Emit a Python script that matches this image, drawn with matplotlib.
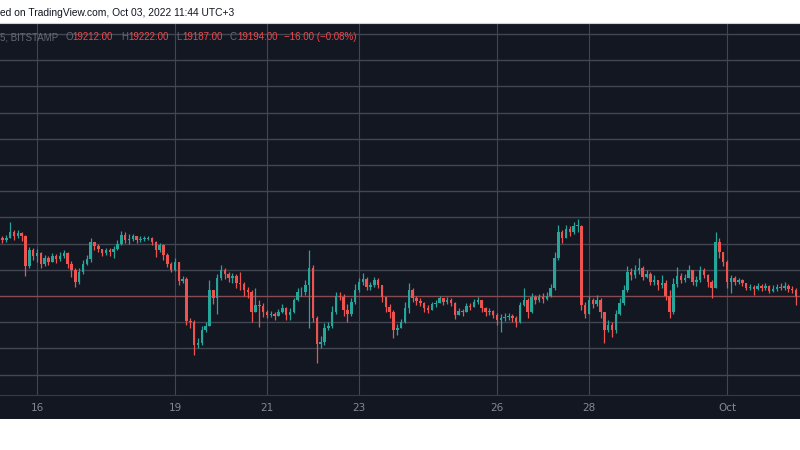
import matplotlib
matplotlib.use("Agg")
import matplotlib.pyplot as plt
import matplotlib.dates as mdates
import numpy as np
import pandas as pd

# BTCUSD (Bitstamp), 2h candles Sep 15 -> Oct 2 2022
first_open = 20085
closes = [
    20055, 20085, 20175, 20115, 20160, 20115, 19660, 19900, 19810, 19855,
    19690, 19780, 19720, 19810, 19765, 19810, 19855, 19690, 19595, 19415,
    19565, 19690, 19765, 20025, 19965, 19920, 19855, 19900, 19870, 19920,
    19995, 20130, 20055, 20070, 20115, 20055, 20070, 20070, 20085, 20025,
    19900, 19980, 19825, 19690, 19595, 19720, 19430, 19460, 18820, 18805,
    18450, 18480, 18680, 18740, 19290, 19170, 19475, 19595, 19535, 19475,
    19505, 19400, 19385, 19290, 19260, 18955, 19065, 19045, 18955, 18910,
    18925, 18895, 18955, 19015, 18910, 18955, 19140, 19260, 19260, 19370,
    19630, 18865, 18465, 18500, 18710, 18740, 18955, 19200, 19185, 18985,
    18925, 19110, 19290, 19415, 19460, 19335, 19370, 19445, 19370, 19185,
    19030, 18955, 18680, 18710, 18805, 19015, 19290, 19170, 19125, 19095,
    19015, 18985, 19080, 19095, 19170, 19110, 19140, 19095, 18910, 18970,
    18955, 19045, 19030, 19110, 19140, 19015, 18955, 18970, 18910, 18835,
    18865, 18880, 18895, 18865, 18805, 19065, 19140, 18955, 19185, 19140,
    19185, 19155, 19200, 19320, 19780, 20175, 20085, 20225, 20175, 20270,
    20270, 19065, 18925, 19140, 19080, 19140, 18955, 18680, 18755, 18680,
    18925, 19095, 19290, 19565, 19520, 19595, 19630, 19490, 19535, 19415,
    19445, 19370, 19400, 19200, 18955, 19385, 19505, 19445, 19475, 19595,
    19415, 19445, 19595, 19520, 19415, 19320, 20025, 19870, 19720, 19415,
    19475, 19415, 19445, 19400, 19320, 19335, 19305, 19355, 19320, 19355,
    19275, 19305, 19335, 19320, 19355, 19305, 19290, 19194,
]
highs = [
    20115, 20130, 20330, 20210, 20210, 20175, 20130, 19950, 19935, 19920,
    19870, 19825, 19810, 19855, 19840, 19870, 19900, 19870, 19735, 19630,
    19630, 19750, 19825, 20085, 20025, 19995, 19920, 19935, 19935, 19965,
    20055, 20195, 20175, 20145, 20145, 20115, 20115, 20115, 20115, 20100,
    20040, 20010, 19995, 19855, 19720, 19780, 19720, 19505, 19490, 18865,
    18835, 18560, 18740, 18805, 19445, 19290, 19535, 19675, 19630, 19565,
    19550, 19535, 19565, 19415, 19335, 19290, 19320, 19140, 19095, 18985,
    18970, 18955, 19000, 19080, 19030, 19015, 19170, 19320, 19335, 19445,
    19900, 19675, 18895, 18590, 18790, 18805, 19045, 19260, 19260, 19230,
    19080, 19170, 19385, 19475, 19550, 19490, 19415, 19490, 19475, 19370,
    19185, 19080, 18985, 18770, 18850, 19110, 19400, 19320, 19200, 19170,
    19110, 19065, 19110, 19140, 19200, 19170, 19185, 19170, 19110, 19015,
    19000, 19095, 19095, 19155, 19185, 19140, 19030, 19015, 18985, 18940,
    18925, 18940, 18940, 18925, 18895, 19110, 19320, 19170, 19245, 19215,
    19230, 19245, 19260, 19385, 19870, 20285, 20210, 20285, 20270, 20330,
    20375, 20285, 19110, 19200, 19170, 19215, 19170, 18955, 18835, 18805,
    18985, 19170, 19370, 19660, 19630, 19675, 19780, 19660, 19595, 19565,
    19520, 19445, 19520, 19445, 19290, 19475, 19645, 19550, 19535, 19675,
    19595, 19505, 19660, 19630, 19535, 19445, 20175, 20085, 19870, 19750,
    19520, 19505, 19475, 19460, 19400, 19385, 19370, 19400, 19385, 19400,
    19370, 19370, 19385, 19400, 19415, 19385, 19355, 19320,
]
lows = [
    20010, 20025, 20085, 20055, 20085, 20040, 19505, 19630, 19750, 19720,
    19630, 19660, 19675, 19720, 19705, 19735, 19780, 19630, 19490, 19335,
    19385, 19535, 19675, 19720, 19900, 19870, 19810, 19825, 19810, 19780,
    19900, 19980, 20010, 19995, 20040, 20010, 20025, 20040, 20055, 19980,
    19795, 19870, 19750, 19645, 19565, 19580, 19370, 19400, 18755, 18710,
    18300, 18405, 18450, 18650, 18740, 19080, 18925, 19445, 19460, 19415,
    19400, 19320, 19290, 19200, 19170, 18805, 18970, 18725, 18880, 18865,
    18880, 18835, 18895, 18940, 18835, 18835, 18940, 19125, 19200, 19215,
    18710, 18805, 18175, 18405, 18450, 18680, 18710, 18925, 19140, 18895,
    18805, 18895, 19080, 19260, 19370, 19290, 19290, 19335, 19320, 19110,
    18955, 18865, 18560, 18605, 18710, 18790, 18940, 19110, 19065, 19045,
    18955, 18940, 19015, 19030, 19095, 19065, 19080, 19045, 18850, 18910,
    18895, 18955, 18985, 19045, 19080, 18955, 18895, 18910, 18865, 18755,
    18650, 18820, 18835, 18805, 18725, 18790, 19045, 18865, 18940, 19080,
    19110, 19095, 19140, 19185, 19290, 19750, 20010, 20085, 20115, 20145,
    20175, 18985, 18865, 18955, 19015, 19045, 18865, 18480, 18650, 18575,
    18635, 18910, 19065, 19260, 19445, 19475, 19535, 19445, 19475, 19370,
    19370, 19290, 19320, 19140, 18865, 18925, 19335, 19400, 19415, 19475,
    19370, 19355, 19415, 19475, 19335, 19170, 19370, 19780, 19660, 19320,
    19245, 19370, 19385, 19355, 19290, 19290, 19215, 19290, 19275, 19290,
    19245, 19260, 19275, 19290, 19290, 19260, 19245, 19065,
]

tick_dates = ["2022-09-16", "2022-09-19", "2022-09-21", "2022-09-23",
              "2022-09-26", "2022-09-28", "2022-10-01"]
tick_labels = ["16", "19", "21", "23", "26", "28", "Oct"]
grid_prices = list(range(18000, 23201, 400))

header = "ed on TradingView.com, Oct 03, 2022 11:44 UTC+3"
legend_parts = [
    ("5, BITSTAMP", 0, "gray"), ("O", 65, "gray"), ("19212.00", 72, "red"),
    ("H", 121, "gray"), ("19222.00", 128, "red"), ("L", 176, "gray"),
    ("19187.00", 182, "red"), ("C", 230, "gray"), ("19194.00", 237, "red"),
    ("\u221216.00 (\u22120.08%)", 284, "red"),
]

BG = "#131722"
UP = "#26a69a"
DOWN = "#ef5350"
GRID = "#424652"

times = pd.date_range("2022-09-15 06:00", periods=len(closes), freq="2h")
x = mdates.date2num(times)
c = np.array(closes, dtype=float)
o = np.array([first_open] + closes[:-1], dtype=float)
hi = np.maximum(np.array(highs, dtype=float), np.maximum(o, c))
lo = np.minimum(np.array(lows, dtype=float), np.minimum(o, c))
colors = np.where(c >= o, UP, DOWN)

fig = plt.figure(figsize=(8, 4.5), dpi=100, facecolor="white")
ax = fig.add_axes([0, 55 / 450, 1, 372 / 450])
ax.set_facecolor(BG)
ax.set_zorder(2)
# dark strip holding the time axis labels (behind the axes)
strip = fig.add_axes([0, 31 / 450, 1, 24 / 450])
strip.set_facecolor(BG)
strip.set_zorder(1)
strip.set_xticks([])
strip.set_yticks([])
for s in strip.spines.values():
    s.set_visible(False)

for p in grid_prices:
    ax.axhline(p, color=GRID, lw=1.0, zorder=0)
tick_x = mdates.date2num(pd.to_datetime(tick_dates))
for t in tick_x:
    ax.axvline(t, color=GRID, lw=0.8, zorder=0)

ax.vlines(x, lo, hi, colors=colors, lw=0.9, zorder=2)
body = np.maximum(np.abs(c - o), 8)
ax.bar(x, body, bottom=np.minimum(o, c), width=0.055, color=colors, lw=0, zorder=3)

# last price line
ax.axhline(closes[-1], color=DOWN, alpha=0.4, lw=0.9, zorder=1)

ax.set_xlim(mdates.date2num(pd.Timestamp("2022-09-15 04:42")),
            mdates.date2num(pd.Timestamp("2022-10-02 14:05")))
ax.set_ylim(17688, 23369)
ax.set_yticks([])
ax.set_xticks(tick_x)
ax.set_xticklabels(tick_labels)
ax.tick_params(axis="x", length=0, pad=6, labelcolor="#868993", labelsize=7.5)
for side in ["left", "right"]:
    ax.spines[side].set_visible(False)
ax.spines["bottom"].set_color("#363a45")
ax.spines["top"].set_color("#cfd2d8")

fig.text(0, 1 - 13 / 450, header, ha="left", va="center", fontsize=7.4,
         color="#131722", family="Liberation Sans")
for txt, px, kind in legend_parts:
    fig.text(px / 800, 1 - 37 / 450, txt, ha="left", va="center", fontsize=7,
             color="#676a74" if kind == "gray" else "#f0474a", family="Liberation Sans")

fig.savefig("out.png", dpi=100, facecolor="white")
